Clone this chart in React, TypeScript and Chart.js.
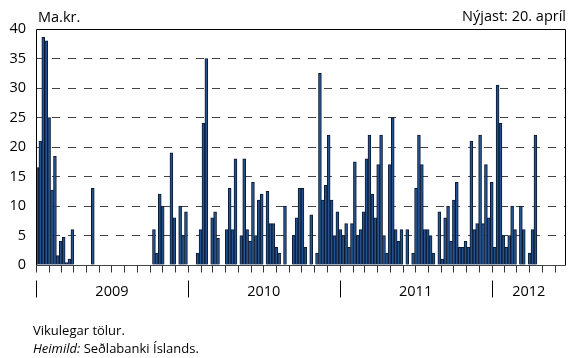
import React, { useEffect, useRef } from 'react';
import { Chart, registerables } from 'chart.js';

Chart.register(...registerables);

// Weekly values (ma.kr.), first week of 2009 onward, latest 20 April 2012
const WEEKLY_VALUES: number[] = [
  16.5, 21, 38.6, 38, 25, 12.7, 18.4, 1.6, 4, 4.7, 0.4, 1, 6,
  0, 0, 0, 0, 0, 0,
  13,
  0, 0, 0, 0, 0, 0, 0, 0, 0, 0, 0, 0, 0, 0, 0, 0, 0, 0, 0, 0,
  6, 2, 12, 10, 0, 0, 19, 8, 0, 10, 5, 9,
  0, 0, 0,
  2, 6, 24, 35, 0, 8, 9, 4.5, 0, 0, 6, 13, 6, 18, 0, 5, 18, 6, 4, 14,
  5, 11, 12, 0, 12.5, 7, 7, 3, 2, 0, 10, 0, 0, 5, 8, 13, 13, 3, 0, 8.5,
  0, 2, 32.5, 11, 13.5, 22, 11, 5, 9,
  6, 5, 7, 3, 7, 17.5, 5, 6, 9, 18, 22, 12, 8, 17, 22, 5, 2, 17, 25, 6,
  4, 6, 0, 6, 0, 2, 13, 22, 17, 6, 6, 5, 2, 0, 9, 1, 8, 10, 4, 11,
  14, 3, 3, 4, 3, 21, 6, 7, 22, 7, 17, 8,
  14, 3, 30.5, 24, 5, 3, 5, 10, 6, 0, 10, 6, 0, 2, 6, 22,
];
const N_WEEKS = 182;
const YEARS = [2009, 2010, 2011, 2012];
const Y_MIN = 0;
const Y_MAX = 40;
const Y_STEP = 5;
const UNIT_LABEL = 'Ma.kr.';
const LATEST_LABEL = 'Nýjast: 20. apríl';
const NOTE = 'Vikulegar tölur.';
const SOURCE_PREFIX = 'Heimild:';
const SOURCE_TEXT = ' Seðlabanki Íslands.';

const START = Date.UTC(YEARS[0], 0, 1);
const weeksFrom = (t: number) => (t - START) / 86400000 / 7;

const FONT = '"Open Sans", "DejaVu Sans", sans-serif';

const decor = {
  id: 'decor',
  afterDraw(chart: any) {
    const { ctx, chartArea: a, scales } = chart;
    const xs = scales.x;
    const per = (xs.right - xs.left) / N_WEEKS;
    const wx = (w: number) => xs.left + w * per;
    const L = Math.round(a.left) + 0.5;
    const R = Math.round(a.right) - 0.5;
    const T = Math.round(a.top) + 0.5;
    const B = Math.round(a.bottom) + 0.5;
    ctx.save();
    ctx.setLineDash([]);
    ctx.lineWidth = 1;
    ctx.strokeStyle = '#000';
    ctx.beginPath();
    ctx.moveTo(L, B);
    ctx.lineTo(L, T);
    ctx.lineTo(R, T);
    ctx.lineTo(R, B);
    ctx.stroke();
    ctx.strokeStyle = '#444';
    ctx.beginPath();
    ctx.moveTo(L, B);
    ctx.lineTo(R, B);
    ctx.stroke();

    // monthly ticks
    ctx.strokeStyle = '#333';
    ctx.beginPath();
    for (const y of YEARS) {
      for (let m = 0; m < 12; m++) {
        const w = weeksFrom(Date.UTC(y, m, 1));
        if (w < 0 || w > N_WEEKS) continue;
        const px = Math.round(wx(w)) + 0.5;
        ctx.moveTo(px, B);
        ctx.lineTo(px, B + 7);
      }
    }
    ctx.stroke();

    // year ticks and labels
    ctx.strokeStyle = '#000';
    ctx.fillStyle = '#000';
    ctx.font = `14.5px ${FONT}`;
    ctx.textAlign = 'center';
    ctx.textBaseline = 'alphabetic';
    ctx.beginPath();
    YEARS.forEach((y, i) => {
      const w0 = weeksFrom(Date.UTC(y, 0, 1));
      const w1 = i < YEARS.length - 1 ? weeksFrom(Date.UTC(YEARS[i + 1], 0, 1)) : N_WEEKS;
      const px = Math.round(wx(w0)) + 0.5;
      ctx.moveTo(px, B + 15);
      ctx.lineTo(px, B + 32);
      ctx.fillText(String(y), (wx(w0) + wx(Math.min(w1, N_WEEKS))) / 2, B + 30);
    });
    ctx.stroke();

    // header texts
    ctx.textAlign = 'left';
    ctx.fillText(UNIT_LABEL, a.left + 2, 21.5);
    ctx.textAlign = 'right';
    ctx.fillText(LATEST_LABEL, a.right, 21);

    // footer texts
    ctx.textAlign = 'left';
    ctx.font = `13px ${FONT}`;
    ctx.fillText(NOTE, 33, 334.5);
    ctx.font = `italic 13px ${FONT}`;
    ctx.fillText(SOURCE_PREFIX, 33, 352.5);
    const w = ctx.measureText(SOURCE_PREFIX).width;
    ctx.font = `13px ${FONT}`;
    ctx.fillText(SOURCE_TEXT, 33 + w, 352.5);
    ctx.restore();
  },
};

export default function App() {
  const ref = useRef<HTMLCanvasElement | null>(null);
  useEffect(() => {
    if (!ref.current) return;
    const labels = Array.from({ length: N_WEEKS }, (_, i) => String(i + 1));
    const data = labels.map((_, i) => (i < WEEKLY_VALUES.length ? WEEKLY_VALUES[i] : null));
    const chart = new Chart(ref.current, {
      type: 'bar',
      data: {
        labels,
        datasets: [
          {
            data,
            backgroundColor: '#25528f',
            borderColor: '#0b1a30',
            borderWidth: 1,
            categoryPercentage: 1,
            barPercentage: 1,
          },
        ],
      },
      options: {
        responsive: false,
        animation: false,
        events: [],
        layout: { padding: { left: 0, right: 2, top: 29, bottom: 93 } },
        plugins: { legend: { display: false }, tooltip: { enabled: false }, title: { display: false } },
        scales: {
          x: { display: false, offset: true },
          y: {
            min: Y_MIN,
            max: Y_MAX,
            afterFit: (s: any) => {
              s.width = 36;
            },
            ticks: {
              stepSize: Y_STEP,
              padding: 10,
              color: '#000',
              font: { family: FONT, size: 14.5 },
            },
            grid: {
              drawTicks: false,
              lineWidth: 1,
              color: (c: any) =>
                c.tick && (c.tick.value === Y_MIN || c.tick.value === Y_MAX) ? 'rgba(0,0,0,0)' : '#444',
            },
            border: { display: false, dash: [8, 8] },
          },
        },
      },
      plugins: [decor],
    });
    return () => chart.destroy();
  }, []);
  return (
    <div style={{ position: 'absolute', left: 0, top: 0, width: 568, height: 358, background: '#fff' }}>
      <canvas ref={ref} width={568} height={358} />
    </div>
  );
}
